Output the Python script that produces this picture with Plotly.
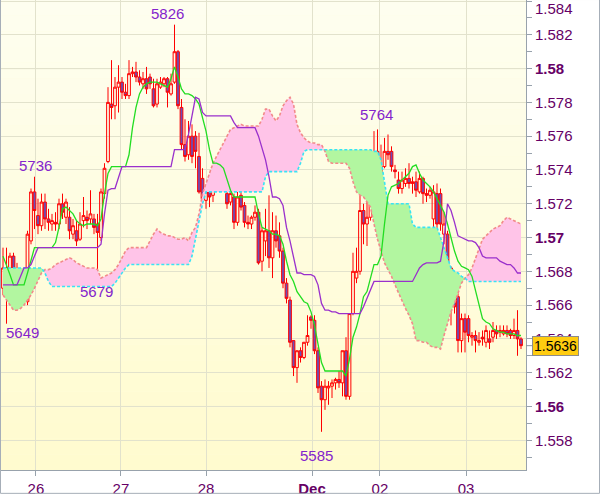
import plotly.graph_objects as go

# ---- data: prices in pips (5826 means 1.5826), one value per hourly candle ----
open_pips = [5670,5682,5673,5689,5670,5672,5665,5662,5698,5727,
5713,5707,5721,5711,5708,5709,5708,5720,5712,5712,
5702,5704,5699,5710,5712,5711,5711,5708,5700,5726,
5745,5779,5778,5789,5792,5786,5784,5797,5798,5795,
5791,5794,5795,5788,5779,5789,5791,5794,5785,5792,
5810,5777,5755,5749,5760,5760,5748,5735,5722,5729,
5725,5736,5738,5742,5726,5721,5724,5709,5725,5719,
5709,5708,5712,5715,5686,5698,5704,5688,5704,5701,
5692,5673,5663,5639,5623,5633,5629,5638,5653,5651,
5633,5612,5604,5611,5612,5614,5616,5614,5633,5606,
5655,5676,5680,5716,5708,5712,5735,5751,5722,5742,
5751,5751,5740,5734,5729,5732,5735,5732,5733,5727,
5735,5726,5725,5711,5726,5726,5702,5702,5682,5666,
5665,5639,5652,5652,5641,5642,5638,5641,5638,5640,
5641,5645,5644,5643,5645,5645,5642,5645,5640]
close_pips = [5682,5670,5689,5673,5679,5665,5673,5702,5727,5716,
5707,5721,5711,5709,5710,5708,5720,5715,5721,5704,
5707,5698,5708,5713,5710,5714,5706,5703,5727,5741,
5780,5777,5789,5792,5786,5784,5797,5798,5795,5792,
5794,5788,5791,5778,5791,5792,5794,5786,5791,5810,
5778,5755,5748,5760,5748,5751,5727,5723,5727,5724,
5737,5741,5743,5736,5720,5726,5709,5724,5718,5709,
5708,5712,5715,5685,5704,5704,5688,5704,5698,5692,
5673,5664,5638,5623,5633,5629,5638,5642,5651,5633,
5611,5604,5612,5612,5614,5616,5614,5633,5606,5655,
5680,5680,5716,5708,5712,5735,5748,5722,5742,5751,
5749,5742,5739,5729,5734,5735,5732,5733,5728,5735,
5726,5725,5728,5727,5708,5708,5708,5682,5659,5659,
5639,5652,5644,5642,5642,5639,5639,5640,5645,5638,
5645,5643,5645,5645,5643,5642,5645,5640,5636]
high_pips = [5694,5694,5691,5691,5685,5678,5681,5704,5729,5736,
5723,5726,5726,5717,5714,5715,5723,5726,5723,5718,
5711,5710,5715,5724,5716,5728,5714,5714,5729,5744,
5789,5805,5795,5802,5795,5791,5805,5801,5804,5799,
5798,5801,5797,5794,5794,5795,5795,5795,5797,5826,
5811,5782,5770,5769,5767,5763,5762,5741,5730,5732,
5739,5746,5746,5745,5729,5729,5726,5727,5729,5721,
5713,5713,5719,5717,5706,5717,5725,5715,5713,5709,
5694,5676,5665,5639,5633,5635,5638,5654,5654,5654,
5635,5615,5616,5615,5616,5617,5621,5633,5641,5655,
5691,5694,5725,5720,5721,5741,5763,5764,5755,5759,
5761,5754,5743,5739,5739,5741,5744,5736,5739,5739,
5736,5729,5730,5731,5732,5729,5715,5704,5683,5667,
5667,5655,5655,5654,5644,5645,5644,5645,5648,5645,
5650,5648,5648,5648,5648,5646,5652,5657,5641]
low_pips = [5666,5648,5669,5664,5666,5661,5663,5660,5696,5705,
5702,5704,5705,5704,5704,5704,5705,5711,5708,5699,
5699,5695,5698,5706,5705,5708,5702,5679,5698,5723,
5744,5770,5770,5774,5782,5782,5782,5795,5792,5790,
5788,5785,5788,5777,5777,5788,5789,5777,5784,5791,
5776,5752,5745,5746,5744,5741,5726,5720,5717,5718,
5721,5735,5736,5735,5717,5719,5705,5707,5716,5706,
5705,5705,5710,5684,5680,5689,5682,5676,5694,5688,
5670,5661,5635,5618,5614,5626,5628,5636,5646,5631,
5608,5585,5598,5601,5605,5610,5611,5606,5604,5604,
5654,5673,5678,5696,5695,5710,5733,5720,5720,5741,
5746,5739,5735,5726,5726,5730,5729,5726,5724,5726,
5720,5721,5723,5706,5696,5704,5696,5679,5648,5655,
5632,5632,5632,5638,5636,5632,5636,5636,5635,5634,
5638,5640,5641,5642,5641,5640,5640,5630,5634]
low_pips[1] = 5649
tenkan_pips = [5689,5684,5678,5672,5672,5672,5672,5679,5687,5694,
5694,5694,5694,5694,5694,5697,5706,5717,5718,5716,
5714,5710,5708,5707,5708,5708,5708,5707,5711,5726,
5738,5742,5742,5742,5742,5742,5749,5765,5777,5785,
5789,5791,5792,5792,5792,5791,5790,5789,5794,5801,
5795,5788,5785,5785,5784,5782,5779,5771,5763,5752,
5744,5744,5743,5741,5735,5728,5724,5724,5724,5724,
5724,5724,5724,5714,5706,5705,5704,5702,5702,5701,
5696,5686,5678,5674,5668,5665,5662,5661,5656,5648,
5638,5626,5621,5621,5621,5621,5621,5621,5618,5628,
5641,5647,5655,5665,5668,5676,5684,5684,5689,5708,
5725,5730,5731,5732,5734,5736,5738,5742,5743,5738,
5734,5732,5730,5727,5723,5719,5715,5708,5700,5692,
5686,5683,5682,5681,5677,5669,5661,5652,5650,5649,
5646,5645,5644,5644,5643,5643,5643,5642,5642]
kijun_pips = [5672,5672,5672,5672,5672,5677,5682,5682,5684,5689,
5694,5694,5694,5694,5694,5694,5694,5694,5694,5694,
5694,5694,5694,5694,5694,5694,5694,5694,5696,5714,
5728,5729,5729,5736,5742,5742,5742,5742,5742,5742,
5742,5742,5742,5742,5742,5742,5742,5742,5742,5752,
5752,5752,5752,5761,5771,5783,5782,5774,5772,5772,
5772,5772,5772,5772,5772,5772,5768,5765,5765,5765,
5765,5765,5765,5760,5753,5746,5736,5724,5724,5723,
5719,5706,5698,5689,5679,5679,5678,5678,5678,5677,
5672,5661,5657,5657,5656,5656,5655,5655,5655,5655,
5655,5655,5655,5659,5664,5670,5674,5674,5674,5674,
5674,5674,5674,5674,5674,5674,5674,5674,5678,5682,
5684,5685,5685,5685,5685,5686,5698,5720,5716,5709,
5701,5700,5699,5698,5698,5697,5694,5689,5688,5688,
5688,5688,5686,5685,5684,5684,5682,5679,5679]
span_a_pips = [5666,5663,5660,5657,5657,5658,5660,5663,5666,5670,
5675,5679,5681,5681,5682,5684,5685,5686,5687,5688,
5687,5685,5684,5683,5682,5682,5682,5681,5676,5677,
5678,5679,5681,5684,5688,5692,5694,5694,5694,5694,
5694,5694,5698,5702,5705,5703,5702,5701,5701,5700,
5699,5699,5700,5698,5703,5706,5714,5726,5732,5739,
5744,5748,5752,5756,5760,5764,5765,5766,5767,5766,
5766,5766,5766,5766,5770,5776,5776,5772,5769,5772,
5778,5781,5783,5779,5767,5762,5759,5757,5756,5756,
5755,5755,5751,5745,5744,5744,5744,5744,5744,5741,
5733,5727,5725,5724,5721,5718,5708,5699,5692,5685,
5681,5677,5672,5667,5663,5658,5654,5649,5639,5639,
5638,5638,5636,5635,5635,5634,5642,5649,5656,5661,
5667,5673,5676,5678,5682,5688,5694,5699,5701,5703,
5705,5706,5707,5710,5712,5711,5710,5709,5708]
span_b_pips = [5682,5682,5682,5682,5682,5682,5682,5682,5682,5682,
5682,5682,5679,5674,5671,5671,5671,5671,5671,5671,
5671,5671,5671,5671,5671,5671,5671,5671,5671,5671,
5671,5671,5673,5676,5679,5682,5684,5684,5684,5684,
5684,5684,5684,5684,5684,5684,5684,5684,5684,5684,
5684,5684,5684,5684,5689,5699,5710,5720,5727,5727,
5727,5727,5727,5727,5727,5727,5727,5727,5727,5727,
5727,5727,5727,5727,5727,5736,5739,5739,5739,5739,
5739,5739,5739,5739,5739,5744,5751,5752,5752,5752,
5752,5752,5752,5752,5752,5752,5752,5752,5752,5752,
5752,5752,5752,5752,5752,5752,5751,5751,5746,5732,
5720,5720,5720,5720,5720,5720,5720,5708,5706,5706,
5706,5706,5706,5706,5706,5700,5694,5688,5682,5680,
5679,5677,5676,5674,5674,5674,5674,5674,5674,5674,
5674,5674,5674,5674,5674,5674,5674,5674,5674]

day_labels = ["26", "27", "28", "<b>Dec</b>", "02", "03"]
day_pos = [9.4, 33.7, 58.0, 88.3, 107.7, 132.3]
y_major = [1.558, 1.560, 1.562, 1.564, 1.566, 1.568, 1.570, 1.572, 1.574,
           1.576, 1.578, 1.580, 1.582, 1.584]
y_major_text = ["1.558", "<b>1.56</b>", "1.562", "1.564", "1.566", "1.568", "<b>1.57</b>",
                "1.572", "1.574", "1.576", "1.578", "<b>1.58</b>", "1.582", ""]
y_minor = [1.557, 1.559, 1.561, 1.563, 1.565, 1.567, 1.569, 1.571, 1.573,
           1.575, 1.577, 1.579, 1.581, 1.583]
y_round = [1.56, 1.57, 1.58]
high_marks = [9, 49, 107]
low_marks = [1, 27, 91]


def to_price(v):
    return 1 + v / 10000.0


n = len(open_pips)
xs = list(range(n))
O = [to_price(v) for v in open_pips]
C = [to_price(v) for v in close_pips]
H = [to_price(v) for v in high_pips]
L = [to_price(v) for v in low_pips]
TEN = [to_price(v) for v in tenkan_pips]
KIJ = [to_price(v) for v in kijun_pips]
SA = [to_price(v) for v in span_a_pips]
SB = [to_price(v) for v in span_b_pips]

PINK = "rgba(255,196,232,1)"
GREEN = "rgba(178,246,160,1)"

fig = go.Figure()

# ---- cloud fills (split at crossings) ----
pts = []
for i in range(n):
    if i > 0:
        d0 = SA[i - 1] - SB[i - 1]
        d1 = SA[i] - SB[i]
        if d0 * d1 < 0:
            t = d0 / (d0 - d1)
            xc = xs[i - 1] + t * (xs[i] - xs[i - 1])
            yc = SA[i - 1] + t * (SA[i] - SA[i - 1])
            pts.append((xc, yc, yc))
    pts.append((xs[i], SA[i], SB[i]))

groups = []
cur = None
for j in range(len(pts) - 1):
    d = (pts[j][1] - pts[j][2]) + (pts[j + 1][1] - pts[j + 1][2])
    s = 1 if d > 0 else (-1 if d < 0 else 0)
    if cur is None or cur[0] != s:
        cur = [s, [pts[j], pts[j + 1]]]
        groups.append(cur)
    else:
        cur[1].append(pts[j + 1])

for s, seg in groups:
    if s == 0:
        continue
    px_ = [p[0] for p in seg] + [p[0] for p in reversed(seg)]
    py_ = [p[1] for p in seg] + [p[2] for p in reversed(seg)]
    fig.add_trace(go.Scatter(x=px_, y=py_, fill="toself", mode="lines",
                             line=dict(width=0), fillcolor=PINK if s > 0 else GREEN,
                             hoverinfo="skip"))

fig.add_trace(go.Scatter(x=xs, y=SA, mode="lines",
                         line=dict(color="#f28a8a", width=1.6, dash="3px,2px")))
fig.add_trace(go.Scatter(x=xs, y=SB, mode="lines",
                         line=dict(color="#38e4f4", width=1.6, dash="3px,2px")))

# ---- candles ----
fig.add_trace(go.Candlestick(
    x=xs, open=O, high=H, low=L, close=C, whiskerwidth=0,
    increasing=dict(line=dict(color="#ff0000", width=1), fillcolor="rgba(0,0,0,0)"),
    decreasing=dict(line=dict(color="#ff0000", width=1), fillcolor="#6b4fb8"),
))

# ---- tenkan / kijun ----
fig.add_trace(go.Scatter(x=xs, y=TEN, mode="lines", line=dict(color="#22dd22", width=1.3)))
fig.add_trace(go.Scatter(x=xs, y=KIJ, mode="lines", line=dict(color="#9a30cc", width=1.3)))

# ---- background gradient + round-number grid ----
shapes = []
nb = 30
top = (254, 254, 240)
bot = (255, 251, 206)
for k in range(nb):
    f = (k + 0.5) / nb
    col = tuple(int(round(top[c] + (bot[c] - top[c]) * f)) for c in range(3))
    shapes.append(dict(type="rect", xref="paper", yref="paper", x0=0, x1=1,
                       y0=1 - (k + 1) / nb, y1=1 - k / nb, line=dict(width=0),
                       fillcolor="rgb(%d,%d,%d)" % col, layer="below"))
for v in y_round:
    shapes.append(dict(type="line", xref="paper", yref="y", x0=0, x1=1, y0=v, y1=v,
                       line=dict(color="#cbcbb4", width=1), layer="below"))
# frame
shapes.append(dict(type="rect", xref="paper", yref="paper",
                   x0=-0.5 / 525, x1=598.5 / 525, y0=-23.5 / 473, y1=1 + 0.5 / 473,
                   line=dict(color="#a6aeb8", width=1), layer="above"))
# connector to price tag
shapes.append(dict(type="line", xref="paper", yref="y", x0=1.0, x1=1 + 6 / 525,
                   y0=C[-1], y1=C[-1], line=dict(color="#8a949e", width=1)))

annotations = []
ann_font = dict(family="Liberation Sans", size=15, color="#8424cc")
hi_shift = {9: (1.5, 11), 49: (-7.5, 11), 107: (-1.5, 15)}
lo_shift = {1: (15.5, -9), 27: (-1.5, -18), 91: (-5.5, -24)}
for i in high_marks:
    annotations.append(dict(x=xs[i], y=H[i], text=str(high_pips[i]), showarrow=False,
                            xshift=hi_shift[i][0], yshift=hi_shift[i][1], font=ann_font))
for i in low_marks:
    annotations.append(dict(x=xs[i], y=L[i], text=str(low_pips[i]), showarrow=False,
                            xshift=lo_shift[i][0], yshift=lo_shift[i][1], font=ann_font))
# top axis label that would otherwise be clipped
annotations.append(dict(xref="paper", yref="paper", x=1 + 7 / 525, y=1 - 9 / 473,
                        xanchor="left", yanchor="middle", text="1.584", showarrow=False,
                        font=dict(family="Liberation Sans", size=15, color="#660066")))
# current price tag
annotations.append(dict(xref="paper", yref="y", x=1 + 6 / 525, y=C[-1], xanchor="left",
                        yanchor="middle", text="%.4f" % C[-1], showarrow=False,
                        bgcolor="#ffcc10", bordercolor="#8c8c8c", borderwidth=1, borderpad=1,
                        font=dict(family="Liberation Sans", size=14, color="#000000")))

fig.update_layout(
    width=600, height=497,
    margin=dict(l=1, r=74, t=0, b=24),
    paper_bgcolor="#ffffff", plot_bgcolor="#fffde0",
    showlegend=False, hovermode=False,
    boxgap=0.22, boxgroupgap=0,
    shapes=shapes, annotations=annotations,
    xaxis=dict(range=[-0.57, 149.43], tickmode="array", tickvals=day_pos, ticktext=day_labels,
               ticks="outside", ticklen=5, tickcolor="#98a2ac", showline=True,
               linecolor="#98a2ac", linewidth=1, showgrid=True, gridcolor="#e2e2cc",
               gridwidth=1, zeroline=False, rangeslider=dict(visible=False),
               tickfont=dict(family="Liberation Sans", size=15, color="#660066")),
    yaxis=dict(range=[1.55624, 1.58406], side="right", tickmode="array", tickvals=y_major,
               ticktext=y_major_text, ticks="outside", ticklen=5, tickcolor="#98a2ac",
               minor=dict(tickvals=y_minor, ticks="outside", ticklen=5, tickcolor="#98a2ac",
                          showgrid=False),
               showline=True, linecolor="#98a2ac", linewidth=1, showgrid=True,
               gridcolor="#e2e2cc", gridwidth=1, zeroline=False,
               tickfont=dict(family="Liberation Sans", size=15, color="#660066")),
)

fig.write_html("out.html", config={"staticPlot": True},
               post_script="document.body.style.margin='0';")
